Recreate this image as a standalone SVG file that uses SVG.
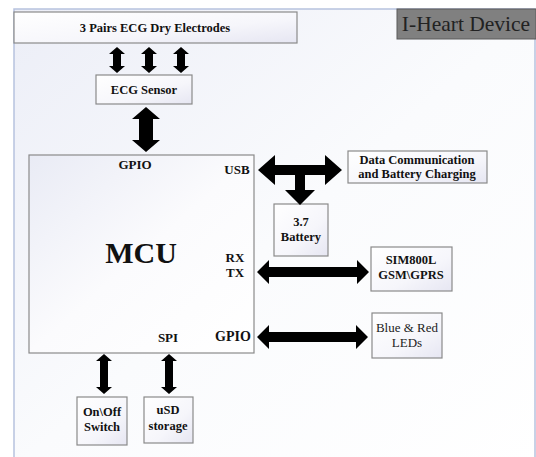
<svg xmlns="http://www.w3.org/2000/svg" width="536" height="457" viewBox="0 0 536 457">
<defs>
<linearGradient id="bg" x1="0" y1="0" x2="1" y2="1">
<stop offset="0" stop-color="#eceef7"/>
<stop offset="0.5" stop-color="#fafbfd"/>
<stop offset="1" stop-color="#ffffff"/>
</linearGradient>
<linearGradient id="box" x1="0" y1="0" x2="1" y2="1">
<stop offset="0" stop-color="#ffffff"/>
<stop offset="0.6" stop-color="#f6f6fb"/>
<stop offset="1" stop-color="#e6e6f2"/>
</linearGradient>
<linearGradient id="mcu" x1="0" y1="0" x2="1" y2="1">
<stop offset="0" stop-color="#e9ebf5"/>
<stop offset="0.5" stop-color="#fbfbfd"/>
<stop offset="1" stop-color="#ffffff"/>
</linearGradient>
</defs>
<style>
.box{fill:url(#box);stroke:#8a8a8a;stroke-width:1.2}
.t{font-family:"Liberation Serif","Times New Roman",serif;font-weight:bold;font-size:12.5px;fill:#111;text-anchor:middle}
.n{font-family:"Liberation Serif","Times New Roman",serif;font-size:13px;fill:#222;text-anchor:middle}
.p{font-family:"Liberation Serif","Times New Roman",serif;font-weight:bold;font-size:13px;fill:#111;text-anchor:middle}
.arr{fill:#000}
</style>
<rect x="0" y="0" width="536" height="457" fill="#ffffff"/>
<rect x="14" y="9" width="521" height="460" fill="url(#bg)" stroke="#b6c2de" stroke-width="1.5"/>

<g id="title">
<rect x="397" y="9" width="139" height="30" fill="#808080" stroke="#5a5a5a" stroke-width="1"/>
<text x="466" y="31" style="font-family:'Liberation Serif','Times New Roman',serif;font-size:21.5px;fill:#222;text-anchor:middle">I-Heart Device</text>
</g>

<g id="electrodes">
<rect class="box" x="14" y="12" width="283" height="31"/>
<text class="t" x="155" y="32">3 Pairs ECG Dry Electrodes</text>
</g>

<g id="ecg-sensor">
<rect class="box" x="96" y="75" width="96" height="29"/>
<text class="t" x="144" y="94">ECG Sensor</text>
</g>

<g id="mcu-node">
<rect x="29" y="155" width="225" height="198" fill="url(#mcu)" stroke="#8a8a8a" stroke-width="1.2"/>
<text class="p" x="135" y="169">GPIO</text>
<text class="p" x="237" y="174">USB</text>
<text x="141" y="263" style="font-family:'Liberation Serif','Times New Roman',serif;font-weight:bold;font-size:30px;fill:#111;text-anchor:middle">MCU</text>
<text class="p" x="235" y="262">RX</text>
<text class="p" x="235" y="277">TX</text>
<text class="p" x="168" y="342">SPI</text>
<text class="p" x="233" y="341" style="font-size:14px">GPIO</text>
</g>

<g id="data-comm">
<rect class="box" x="348" y="151" width="139" height="32"/>
<text class="t" x="417" y="164">Data Communication</text>
<text class="t" x="417" y="178">and Battery Charging</text>
</g>

<g id="battery">
<rect class="box" x="274" y="204" width="54" height="52"/>
<text class="t" x="301" y="226">3.7</text>
<text class="t" x="301" y="241">Battery</text>
</g>

<g id="sim800l">
<rect class="box" x="371" y="247" width="81" height="44"/>
<text class="t" x="411" y="264">SIM800L</text>
<text class="t" x="411" y="279">GSM\GPRS</text>
</g>

<g id="leds">
<rect class="box" x="372" y="313" width="70" height="45"/>
<text class="n" x="407" y="332">Blue &amp; Red</text>
<text class="n" x="407" y="347">LEDs</text>
</g>

<g id="switch">
<rect class="box" x="77" y="397" width="50" height="48"/>
<text class="t" x="102" y="416">On\Off</text>
<text class="t" x="102" y="431">Switch</text>
</g>

<g id="usd">
<rect class="box" x="144" y="397" width="49" height="46"/>
<text class="t" x="168" y="414">uSD</text>
<text class="t" x="168" y="430">storage</text>
</g>

<g id="connectors">
<path class="arr" d="M117,47 L125,54 L121,54 L121,66 L125,66 L117,73 L109,66 L113,66 L113,54 L109,54 Z"/>
<path class="arr" d="M149,47 L157,54 L153,54 L153,66 L157,66 L149,73 L141,66 L145,66 L145,54 L141,54 Z"/>
<path class="arr" d="M181,47 L189,54 L185,54 L185,66 L189,66 L181,73 L173,66 L177,66 L177,54 L173,54 Z"/>
<path class="arr" d="M146,107 L160,119 L153,119 L153,140 L160,140 L146,152 L132,140 L139,140 L139,119 L132,119 Z"/>
<path class="arr" d="M258,170 L275,155 L275,165 L325,165 L325,155 L342,170 L325,185 L325,175 L305,175 L305,190 L315,190 L300,205 L285,190 L295,190 L295,175 L275,175 L275,185 Z"/>
<path class="arr" d="M257,272 L269,260 L269,267 L357,267 L357,260 L369,272 L357,284 L357,277 L269,277 L269,284 Z"/>
<path class="arr" d="M257,337 L269,325 L269,332 L356,332 L356,325 L368,337 L356,349 L356,342 L269,342 L269,349 Z"/>
<path class="arr" d="M104,354 L112,361 L108,361 L108,387 L112,387 L104,394 L96,387 L100,387 L100,361 L96,361 Z"/>
<path class="arr" d="M169,354 L177,361 L173,361 L173,387 L177,387 L169,394 L161,387 L165,387 L165,361 L161,361 Z"/>
</g>
</svg>
